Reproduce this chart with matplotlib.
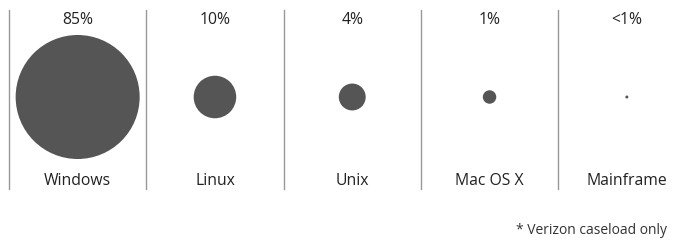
import matplotlib.pyplot as plt
from matplotlib.patches import Circle
import numpy as np

# data
systems = ["Windows", "Linux", "Unix", "Mac OS X", "Mainframe"]
share = [85, 10, 4, 1, 0.05]
share_labels = ["85%", "10%", "4%", "1%", "<1%"]
note = "* Verizon caseload only"

plt.rcParams['font.family'] = ['Open Sans', 'DejaVu Sans']

fig = plt.figure(figsize=(6.91, 2.44), dpi=100)
ax = fig.add_axes([0, 0, 1, 1])
ax.set_xlim(0, 691)
ax.set_ylim(244, 0)
ax.set_aspect('equal')
ax.axis('off')

x0 = 9       # first divider
step = 137.3 # column width
scale = 62 / np.sqrt(85)  # radius per sqrt(share)
cy = 97

for i in range(len(systems)):
    cx = x0 + step * (i + 0.5)
    r = scale * np.sqrt(share[i])
    ax.add_patch(Circle((cx, cy), r, color='#555555', lw=0))
    ax.text(cx, 20, share_labels[i], ha='center', va='center', fontsize=11.3, color='#222222')
    ax.text(cx, 181, systems[i], ha='center', va='center', fontsize=11.3, color='#222222')

# dividers
for i in range(5):
    ax.plot([x0 + step * i] * 2, [10, 189], color='#999999', lw=1)

ax.text(667, 231, note, ha='right', va='center', fontsize=10, color='#333333')

fig.savefig('out.png', dpi=100)
